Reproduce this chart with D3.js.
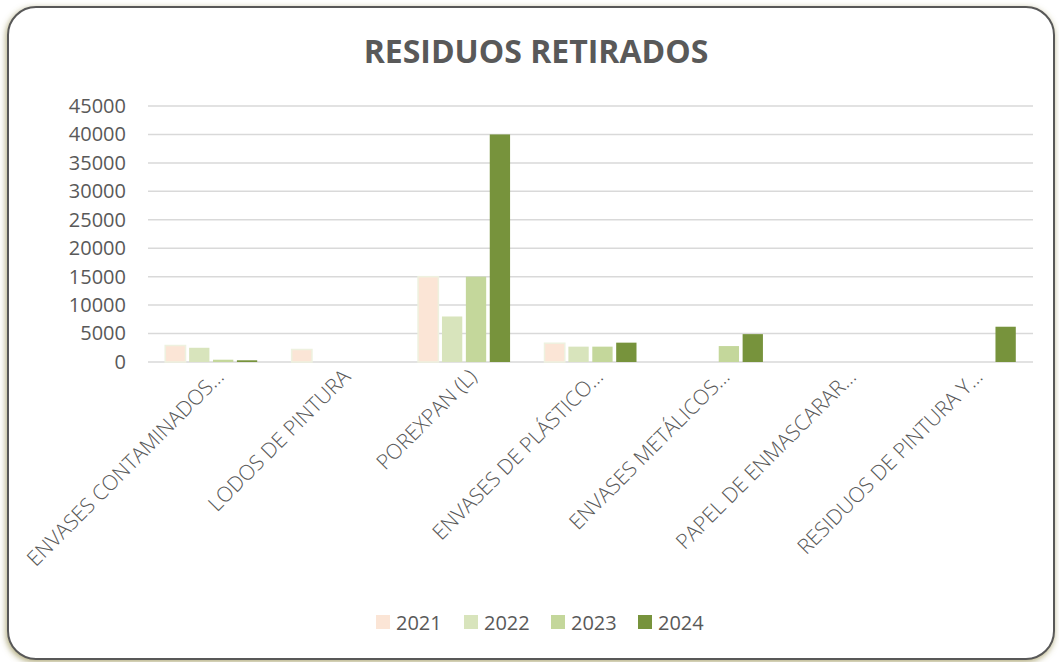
<!DOCTYPE html>
<html>
<head>
<meta charset="utf-8">
<script src="https://cdn.jsdelivr.net/npm/d3@7"></script>
<style>
  body { margin: 0; background: #fff; }
  svg { display: block; font-family: "Open Sans", sans-serif; }
</style>
</head>
<body>
<svg width="1059" height="662"></svg>
<script>
// categories and series
var categories = ["ENVASES CONTAMINADOS…", "LODOS DE PINTURA", "POREXPAN (L)",
                  "ENVASES DE PLÁSTICO…", "ENVASES METÁLICOS…", "PAPEL DE ENMASCARAR…",
                  "RESIDUOS DE PINTURA Y…"];
var years = ["2021", "2022", "2023", "2024"];
var v2021 = [2900, 2200, 15000, 3300, 0, 0, 0];
var v2022 = [2500, 0, 8000, 2700, 0, 0, 0];
var v2023 = [400, 0, 15000, 2700, 2800, 0, 0];
var v2024 = [300, 0, 40000, 3400, 4900, 0, 6200];
var yTicks = [0, 5000, 10000, 15000, 20000, 25000, 30000, 35000, 40000, 45000];

var series = [v2021, v2022, v2023, v2024];
var colours = ["#fbe5d6", "#d8e4bc", "#c4d79b", "#77933c"];
var textCol = "#595959";

var svg = d3.select("svg");

// shadow for the frame
var defs = svg.append("defs");
var f = defs.append("filter").attr("id", "shadow")
  .attr("x", "-5%").attr("y", "-5%").attr("width", "110%").attr("height", "110%");
f.append("feDropShadow").attr("dx", -1).attr("dy", 2).attr("stdDeviation", 3)
  .attr("flood-color", "#8c8440").attr("flood-opacity", 0.7);

svg.append("rect")
  .attr("x", 8).attr("y", 7).attr("width", 1046).attr("height", 652)
  .attr("rx", 28).attr("ry", 28)
  .attr("fill", "#fff").attr("stroke", "#595959").attr("stroke-width", 2)
  .attr("filter", "url(#shadow)");

// title
svg.append("text")
  .attr("x", 536).attr("y", 63)
  .attr("text-anchor", "middle")
  .attr("font-size", 32).attr("font-weight", "bold")
  .attr("fill", textCol)
  .text("RESIDUOS RETIRADOS");

var plotLeft = 148, plotRight = 1033, plotTop = 106, plotBottom = 362;

var x0 = d3.scaleBand().domain(categories).range([plotLeft, plotRight]).padding(0);
var x1 = d3.scaleBand().domain(years).range([0, 92]).paddingInner(0.15);
var y = d3.scaleLinear().domain([0, 45000]).range([plotBottom, plotTop]);

// gridlines
svg.append("g").selectAll("line")
  .data(yTicks).enter().append("line")
  .attr("x1", plotLeft).attr("x2", plotRight)
  .attr("y1", function(d) { return y(d); })
  .attr("y2", function(d) { return y(d); })
  .attr("stroke", "#d9d9d9").attr("stroke-width", 1.5);

// y axis labels
var yAxis = d3.axisLeft(y).tickValues(yTicks).tickSize(0).tickPadding(0)
  .tickFormat(function(d) { return String(d); });
var gy = svg.append("g").attr("transform", "translate(126,0)").call(yAxis);
gy.select(".domain").remove();
gy.selectAll("text").attr("font-size", 20).attr("fill", textCol)
  .attr("font-family", "Open Sans, sans-serif");

// bars
var rows = [];
categories.forEach(function(c, i) {
  years.forEach(function(yr, j) {
    rows.push({ cat: c, year: yr, idx: j, value: series[j][i] });
  });
});

svg.append("g").selectAll("rect")
  .data(rows.filter(function(d) { return d.value > 0; }))
  .enter().append("rect")
  .attr("x", function(d) { return x0(d.cat) + x0.bandwidth() / 2 - 46 + x1(d.year); })
  .attr("width", x1.bandwidth())
  .attr("y", function(d) { return y(d.value); })
  .attr("height", function(d) { return plotBottom - y(d.value); })
  .attr("fill", function(d) { return colours[d.idx]; })
  .attr("stroke", function(d) { return d.idx === 0 ? "#eef1df" : "none"; })
  .attr("stroke-width", 1.5);

// x axis labels, rotated
svg.append("g").selectAll("text")
  .data(categories).enter().append("text")
  .attr("transform", function(d) {
    return "translate(" + (x0(d) + x0.bandwidth() / 2 + 14) + "," + 378 + ") rotate(-45)";
  })
  .attr("text-anchor", "end")
  .attr("font-size", 21)
  .attr("font-weight", 300)
  .attr("fill", textCol)
  .text(function(d) { return d; });

// legend
var legX = [376, 464, 551, 638];
var leg = svg.append("g").selectAll("g")
  .data(years).enter().append("g")
  .attr("transform", function(d, i) { return "translate(" + legX[i] + ",615)"; });
leg.append("rect").attr("width", 14).attr("height", 14)
  .attr("fill", function(d, i) { return colours[i]; });
leg.append("text").attr("x", 20).attr("y", 15)
  .attr("font-size", 20).attr("fill", textCol)
  .text(function(d) { return d; });
</script>
</body>
</html>
